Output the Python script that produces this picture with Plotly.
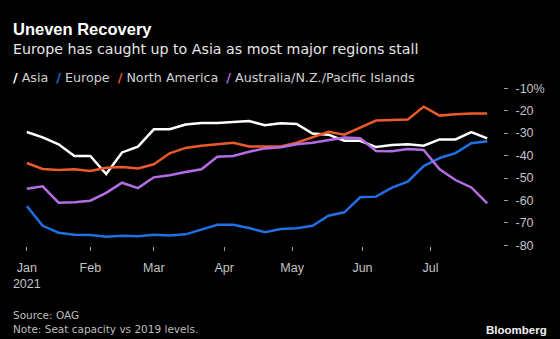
import pandas as pd
import plotly.graph_objects as go

dates = pd.date_range("2021-01-04", periods=30, freq="7D")

asia = [-29.5, -31.9, -35.0, -40.2, -40.2, -48.2, -38.6, -36.0, -28.3, -28.3,
        -26.2, -25.5, -25.5, -24.9, -24.6, -26.5, -25.6, -25.9, -30.2, -30.7,
        -33.4, -33.4, -36.2, -35.3, -35.0, -35.6, -32.8, -32.8, -29.5, -32.3]
europe = [-62.5, -71.3, -74.4, -75.3, -75.4, -76.2, -75.7, -76.0, -75.3, -75.6,
          -75.1, -73.1, -70.8, -70.8, -72.3, -74.2, -72.7, -72.4, -71.3, -66.8,
          -65.3, -58.6, -58.3, -54.3, -51.6, -44.7, -41.1, -38.9, -34.5, -33.6]
north_america = [-43.3, -46.0, -46.4, -46.1, -46.9, -45.4, -45.1, -45.8, -43.9, -39.0,
                 -36.6, -35.6, -35.0, -34.3, -36.0, -36.0, -36.0, -34.3, -31.7, -29.4,
                 -30.7, -27.4, -24.4, -24.1, -23.9, -18.2, -22.2, -21.6, -21.2, -21.2]
australia = [-54.8, -53.7, -61.0, -60.8, -60.1, -56.6, -52.1, -54.5, -49.7, -48.8,
             -47.3, -46.1, -40.5, -40.2, -38.3, -36.8, -36.3, -35.0, -34.3, -33.1,
             -32.0, -32.3, -38.0, -38.1, -37.1, -37.5, -46.1, -50.9, -54.2, -61.3]

series_names = ["Asia", "Europe", "North America", "Australia/N.Z./Pacific Islands"]
series_values = [asia, europe, north_america, australia]
colors = ["#ffffff", "#1f6fe5", "#ec5a2b", "#b56de6"]

x_tickvals = ["2021-01-04", "2021-02-01", "2021-03-01", "2021-04-01",
              "2021-05-01", "2021-06-01", "2021-07-01"]
x_ticktext = ["Jan<br>2021", "Feb", "Mar", "Apr", "May", "Jun", "Jul"]
y_tickvals = [-80, -70, -60, -50, -40, -30, -20, -10]
y_ticktext = ["-80", "-70", "-60", "-50", "-40", "-30", "-20", "-10%"]

W, H = 560, 339
TOP, BOT = 86, 93
PLOT_H = H - TOP - BOT
FONT = "Liberation Sans, Arial, sans-serif"
FONT2 = "DejaVu Sans, sans-serif"


def py(ypx):
    return (H - BOT - ypx) / PLOT_H


fig = go.Figure()
for name, vals, col in zip(series_names, series_values, colors):
    fig.add_trace(go.Scatter(x=dates, y=vals, mode="lines", name=name,
                             line=dict(color=col, width=2.5), showlegend=False))

fig.update_layout(
    width=W, height=H,
    margin=dict(l=0, r=0, t=TOP, b=BOT),
    paper_bgcolor="#000000", plot_bgcolor="#000000",
    font=dict(family=FONT, color="#bdbdbd", size=12),
    xaxis=dict(domain=[20 / W, 494 / W], range=["2021-01-01", "2021-07-29"],
               tickvals=x_tickvals, ticktext=x_ticktext,
               showgrid=False, zeroline=False, showline=False,
               ticks="outside", ticklen=4, tickwidth=1, tickcolor="#9a9a9a",
               ticklabelstandoff=6,
               tickfont=dict(size=12.5, color="#c4c4c4"), automargin=False),
    yaxis=dict(range=[-80.3, -9], side="right", anchor="free", position=503 / W,
               tickvals=y_tickvals, ticktext=y_ticktext,
               showgrid=False, zeroline=False, showline=False,
               ticks="outside", ticklen=4, tickwidth=1, tickcolor="#9a9a9a",
               ticklabelstandoff=5,
               tickfont=dict(size=12.5, color="#c4c4c4"), automargin=False),
)

legend_html = "&nbsp;&nbsp;".join(
    f"<span style='color:{c}'><b>/</b></span> {n}" for n, c in zip(series_names, colors)
)

ann = [
    dict(text="<b>Uneven Recovery</b>", y=29, size=16.5, color="#ffffff", font=FONT),
    dict(text="Europe has caught up to Asia as most major regions stall",
         y=49, size=14.2, color="#e6e6e6", font=FONT2),
    dict(text=legend_html, y=77, size=12.7, color="#d0d0d0", font=FONT2),
    dict(text="Source: OAG", y=315, size=10.5, color="#bdbdbd", font=FONT2),
    dict(text="Note: Seat capacity vs 2019 levels.", y=329, size=10.5, color="#bdbdbd",
         font=FONT2),
]
for a in ann:
    fig.add_annotation(text=a["text"], x=11 / W, y=py(a["y"]), xref="paper", yref="paper",
                       xanchor="left", yanchor="middle", showarrow=False,
                       font=dict(family=a["font"], size=a["size"], color=a["color"]))
fig.add_annotation(text="<b>Bloomberg</b>", x=549 / W, y=py(330), xref="paper",
                   yref="paper", xanchor="right", yanchor="middle", showarrow=False,
                   font=dict(family=FONT, size=11.5, color="#f0f0f0"))

fig.write_html("out.html")
